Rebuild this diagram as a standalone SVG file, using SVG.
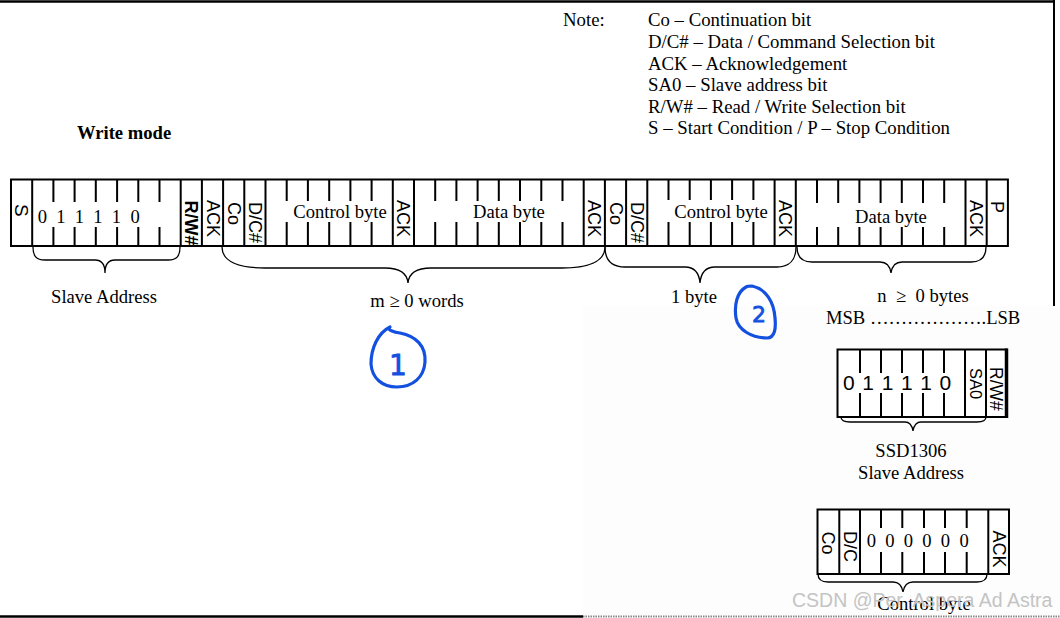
<svg xmlns="http://www.w3.org/2000/svg" width="1060" height="618" viewBox="0 0 1060 618">
<style>
.ser{font-family:"Liberation Serif","Times New Roman",serif;font-size:18.6px;fill:#000}
.mid{text-anchor:middle}
.bold{font-weight:bold}
.dig{letter-spacing:2.3px}
.san{font-family:"Liberation Sans",Arial,sans-serif;font-size:18px;fill:#000}
.rot{dominant-baseline:central}
.box{fill:#fff;stroke:#000;stroke-width:2}
.div{stroke:#000;stroke-width:2;fill:none}
.brace{stroke:#000;stroke-width:1.3;fill:none}
.ink{stroke:#1450e0;stroke-width:3.2;fill:none;stroke-linecap:round;stroke-linejoin:round}
.inktxt{font-family:"DejaVu Sans",sans-serif;fill:#1450e0;stroke:#1450e0;stroke-width:0.8;text-anchor:middle}
</style>
<rect x="0" y="0" width="1060" height="618" fill="#fff"/>
<rect x="583" y="306" width="477" height="310" fill="#fdfdfd"/>
<g id="frame">
<line x1="0" y1="1.5" x2="1054" y2="1.5" stroke="#000" stroke-width="2.5"/>
<line x1="1054" y1="0" x2="1054" y2="306" stroke="#000" stroke-width="2"/>
<line x1="0" y1="616.5" x2="583" y2="616.5" stroke="#000" stroke-width="2.5"/>
<line x1="583" y1="616.5" x2="1060" y2="616.5" stroke="#888" stroke-width="2" stroke-dasharray="1.5,1"/>
</g>
<g id="note">
<text class="ser" x="563" y="26" style="font-size:18.8px">Note:</text>
<text class="ser" x="648" y="26" style="font-size:18.8px">Co – Continuation bit</text>
<text class="ser" x="648" y="48" style="font-size:18.8px">D/C# – Data / Command Selection bit</text>
<text class="ser" x="648" y="69.5" style="font-size:18.8px">ACK – Acknowledgement</text>
<text class="ser" x="648" y="91" style="font-size:18.8px">SA0 – Slave address bit</text>
<text class="ser" x="648" y="112.5" style="font-size:18.8px">R/W# – Read / Write Selection bit</text>
<text class="ser" x="648" y="134" style="font-size:18.8px">S – Start Condition / P – Stop Condition</text>
</g>
<g id="title">
<text class="ser bold" x="77" y="139">Write mode</text>
</g>
<g id="frame-bar">
<rect class="box" x="11" y="179.5" width="996.9" height="66.5"/>
<g class="div">
<path d="M32.2,179.5V246 M180.7,179.5V246 M201.9,179.5V246 M223.1,179.5V246 M244.3,179.5V246 M265.5,179.5V246 M392.8,179.5V246 M414,179.5V246 M583.7,179.5V246 M604.9,179.5V246 M626.1,179.5V246 M647.3,179.5V246 M774.6,179.5V246 M795.8,179.5V246 M965.5,179.5V246 M986.7,179.5V246"/>
<path d="M53.4,179.5V202 M53.4,227V246 M74.6,179.5V202 M74.6,227V246 M95.8,179.5V202 M95.8,227V246 M117.1,179.5V202 M117.1,227V246 M138.3,179.5V202 M138.3,227V246 M159.5,179.5V202 M159.5,227V246"/>
<path d="M286.7,179.5V201 M286.7,222V246 M307.9,179.5V201 M307.9,222V246 M329.2,179.5V201 M329.2,222V246 M350.4,179.5V201 M350.4,222V246 M371.6,179.5V201 M371.6,222V246"/>
<path d="M435.2,179.5V201 M435.2,222V246 M456.4,179.5V201 M456.4,222V246 M477.6,179.5V201 M477.6,222V246 M498.8,179.5V201 M498.8,222V246 M520,179.5V201 M520,222V246 M541.3,179.5V201 M541.3,222V246 M562.5,179.5V201 M562.5,222V246"/>
<path d="M668.5,179.5V200 M668.5,222V246 M689.7,179.5V200 M689.7,222V246 M710.9,179.5V200 M710.9,222V246 M732.1,179.5V200 M732.1,222V246 M753.4,179.5V200 M753.4,222V246"/>
<path d="M817,179.5V203 M817,227V246 M838.2,179.5V203 M838.2,227V246 M859.4,179.5V203 M859.4,227V246 M880.6,179.5V203 M880.6,227V246 M901.8,179.5V203 M901.8,227V246 M923,179.5V203 M923,227V246 M944.2,179.5V203 M944.2,227V246"/>
</g>
</g>
<g id="bar-labels">
<text class="san rot" transform="translate(21.6,204) rotate(90)" style="font-size:19px">S</text>
<text class="ser dig" x="37.7" y="223">0 1 1 1 1 0</text>
<text class="san rot bold" transform="translate(191.3,200.5) rotate(90)">R/W#</text>
<text class="san rot" transform="translate(212.5,200) rotate(90)">ACK</text>
<text class="san rot" transform="translate(233.7,202) rotate(90)">Co</text>
<text class="san rot" transform="translate(254.9,202) rotate(90)">D/C#</text>
<text class="ser mid" x="340" y="218">Control byte</text>
<text class="san rot" transform="translate(403.4,200) rotate(90)">ACK</text>
<text class="ser mid" x="509" y="218">Data byte</text>
<text class="san rot" transform="translate(594.3,200) rotate(90)">ACK</text>
<text class="san rot" transform="translate(615.5,202) rotate(90)">Co</text>
<text class="san rot" transform="translate(636.7,202) rotate(90)">D/C#</text>
<text class="ser mid" x="721" y="218">Control byte</text>
<text class="san rot" transform="translate(785.2,200) rotate(90)">ACK</text>
<text class="ser mid" x="891" y="223">Data byte</text>
<text class="san rot" transform="translate(976,200) rotate(90)">ACK</text>
<text class="san rot" transform="translate(997.3,201) rotate(90)">P</text>
</g>
<g id="connectors">
<path class="brace" d="M33,247 C33,256 36,260 45,260 L95,260 C101,260 105,263 105,273 C105,263 109,260 115,260 L168,260 C177,260 180,256 180,247"/>
<path class="brace" d="M222,247 C222,262 240,268 265,268 L385,268 C398,268 407,272 408,283 C409,272 418,268 431,268 L562,268 C587,268 605,262 605,247"/>
<path class="brace" d="M605,247 C605,260 612,267 625,267 L685,267 C694,267 699,272 700,283 C701,272 706,267 715,267 L777,267 C789,267 796,260 796,247"/>
<path class="brace" d="M797,247 C797,257 802,262 812,262 L880,262 C886,262 890,266 891,273 C892,266 896,262 902,262 L971,262 C981,262 986,257 986,247"/>
<path class="brace" d="M841,417 C841,420 844,422 850,422 L905,422 C909,422 912,425 913,431 C914,425 917,422 921,422 L977,422 C983,422 986,420 986,417"/>
<path class="brace" d="M818,574 C818,579 821,582 828,582 L893,582 C899,582 902,586 903,592 C904,586 907,582 913,582 L977,582 C984,582 987,579 987,574"/>
</g>
<g id="brace-labels">
<text class="ser mid" x="104" y="303">Slave Address</text>
<text class="ser mid" x="417" y="307">m ≥ 0 words</text>
<text class="ser mid" x="694" y="303">1 byte</text>
<text class="ser mid" x="923" y="302" xml:space="preserve">n  ≥  0 bytes</text>
<text class="ser" x="826" y="324">MSB ……………….LSB</text>
</g>
<g id="ssd1306-address">
<rect class="box" x="837.5" y="349.5" width="169" height="67.5"/>
<line x1="1006.5" y1="348.5" x2="1006.5" y2="418" stroke="#000" stroke-width="3.5"/>
<path class="div" d="M965,349.5V417 M986,349.5V417 M860,349.5V373 M860,393V417 M881,349.5V373 M881,393V417 M902,349.5V373 M902,393V417 M923,349.5V373 M923,393V417 M944,349.5V373 M944,393V417"/>
<text class="san" x="843" y="390" style="font-size:21px;letter-spacing:0.9px">0 1 1 1 1 0</text>
<text class="san rot" transform="translate(975.5,368) rotate(90)" style="font-size:16.5px">SA0</text>
<text class="san rot" transform="translate(996.3,367) rotate(90)" style="font-size:17.5px">R/W#</text>
<text class="ser mid" x="911" y="457">SSD1306</text>
<text class="ser mid" x="911" y="479">Slave Address</text>
</g>
<g id="control-byte-detail">
<rect class="box" x="817.5" y="509.5" width="191.5" height="64.5"/>
<path class="div" d="M839.3,509.5V574 M860,509.5V574 M988.3,509.5V574 M881,509.5V528 M881,552V574 M902.3,509.5V528 M902.3,552V574 M924,509.5V528 M924,552V574 M945,509.5V528 M945,552V574 M966.7,509.5V528 M966.7,552V574"/>
<text class="san rot" transform="translate(828.4,531.5) rotate(90)">Co</text>
<text class="san rot" transform="translate(849.7,531) rotate(90)">D/C</text>
<text class="ser dig" x="866.7" y="546.5">0 0 0 0 0 0</text>
<text class="san rot" transform="translate(998.6,530.5) rotate(90)">ACK</text>
<text class="ser mid" x="924" y="610">Control byte</text>
</g>
<g id="annotations">
<path class="ink" d="M390,327 C378,333 371,348 371,364 C372,378 382,387 397,387 C413,387 424,377 425,362 C426,346 416,336 400,333 C394,332 390,331 389,329"/>
<text class="inktxt" x="398" y="375" style="font-size:28px">1</text>
<path class="ink" d="M746,287 C737,292 734,305 736,318 C738,330 752,338 767,338 C775,338 776,328 775,318 C774,302 766,289 752,286 C749,286 747,286 746,287"/>
<text class="inktxt" x="759" y="322" style="font-size:22px">2</text>
</g>
<g id="watermark">
<text x="792" y="607" style="font-family:'Liberation Sans',Arial,sans-serif;font-size:19.5px;fill:#c4c4c4" xml:space="preserve">CSDN @Per  Aspera Ad Astra</text>
</g>
</svg>
